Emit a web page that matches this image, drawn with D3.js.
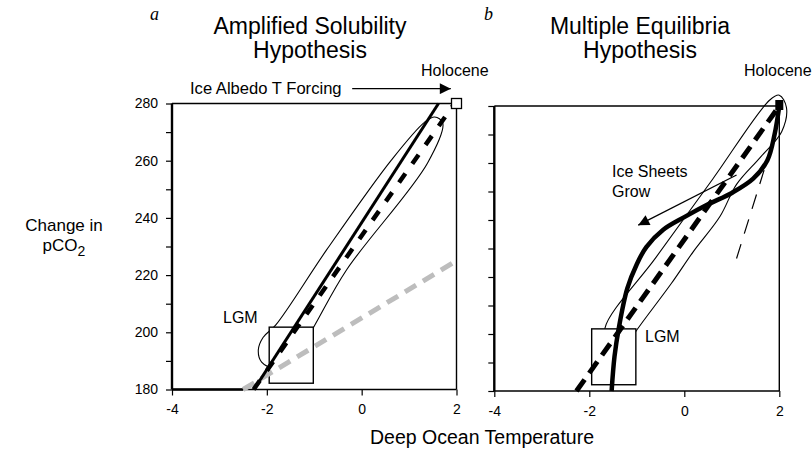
<!DOCTYPE html>
<html>
<head>
<meta charset="utf-8">
<script src="https://cdnjs.cloudflare.com/ajax/libs/d3/7.8.5/d3.min.js"></script>
<style>
  body { margin: 0; background: #fff; }
  text { font-family: "Liberation Sans", Arial, Helvetica, sans-serif; fill: #000; }
  .tick text { font-size: 14px; }
  .tick line { stroke: #000; stroke-width: 1.2; }
</style>
</head>
<body>
<div id="chart"></div>
<script>
// axis ticks
var xTicks = [-4, -2, 0, 2];
var yTicks = [180, 190, 200, 210, 220, 230, 240, 250, 260, 270, 280];

// LGM box (deg C / ppm)
var lgmX = [-1.95, -1.02];
var lgmY = [182.2, 201.8];
var holocene = [2, 280];

// panel a : amplified solubility
var aSolid = [[-2.27, 180], [1.62, 280]];
var aDashed = [[-2.28, 180], [1.96, 280]];
var aGray = [[-2.5, 180], [2, 225]];
var aLoop = [[1.54, 275.3], [1.71, 273.2], [1.39, 259.2], [-0.32, 221.8], [-0.99, 202.5],
  [-1.41, 190.4], [-1.83, 187.6], [-2.11, 189.6], [-2.18, 193.8], [-2.08, 198.2],
  [-1.81, 202.6], [-0.74, 228.8], [0.63, 260.3], [1.33, 273.5]];
var aArrow = [[-0.2, 285.2], [1.88, 285.2]];

// panel b : multiple equilibria
var bDashed = [[-2.27, 180], [2, 280]];
var bSolid = [[-1.53, 180], [-1.47, 192], [-1.38, 202], [-1.2, 216], [-1.0, 224.5], [-0.8, 230.5],
  [-0.45, 236.5], [0, 241], [0.5, 245.5], [1.0, 249.5], [1.45, 254.5], [1.75, 261], [1.9, 270], [2.0, 280]];
var bLoop = [[-1.67, 202.1], [-0.6, 226.8], [0.6, 254.4], [1.8, 282.1], [2.0, 283.8], [2.15, 279.5],
  [2.05, 271], [1.6, 262], [1.1, 252.5], [0.75, 241.2], [0.19, 228.9], [-0.27, 217.8],
  [-1.0, 201.4], [-1.3, 194], [-1.6, 196]];
var bThinDash = [[1.1, 226.5], [1.68, 257.5]];
var bArrow = [[1.1, 255.8], [-0.97, 238.2]];

var svg = d3.select("#chart")
  .append("svg")
  .attr("width", 812)
  .attr("height", 452);

svg.append("defs").append("marker")
  .attr("id", "head")
  .attr("viewBox", "0 0 10 10")
  .attr("refX", 10)
  .attr("refY", 5)
  .attr("markerUnits", "userSpaceOnUse")
  .attr("markerWidth", 22)
  .attr("markerHeight", 11)
  .attr("orient", "auto")
  .append("path")
  .attr("d", "M0,0 L10,5 L0,10 Z")
  .attr("fill", "#000");

function drawPanel(x, y, labels) {
  var g = svg.append("g");

  // y axis ticks
  var yAxis = d3.axisLeft(y)
    .tickValues(yTicks)
    .tickSize(6)
    .tickPadding(8)
    .tickFormat(function (d) {
      return labels && d % 20 == 0 ? d : "";
    });
  g.append("g")
    .attr("transform", "translate(" + x(-4) + ",0)")
    .call(yAxis)
    .call(function (s) { s.select(".domain").remove(); });

  // x axis ticks
  var xAxis = d3.axisBottom(x)
    .tickValues(xTicks)
    .tickSize(6)
    .tickPadding(9)
    .tickFormat(function (d) { return String(d); });
  g.append("g")
    .attr("transform", "translate(0," + y(180) + ")")
    .call(xAxis)
    .call(function (s) { s.select(".domain").remove(); });

  g.selectAll(".tick text").attr("font-family", null);

  // frame
  g.append("line")
    .attr("x1", x(-4)).attr("x2", x(2))
    .attr("y1", y(280)).attr("y2", y(280))
    .attr("stroke", "#000").attr("stroke-width", 1.6);
  g.append("line")
    .attr("x1", x(2)).attr("x2", x(2))
    .attr("y1", y(280)).attr("y2", y(180))
    .attr("stroke", "#000").attr("stroke-width", 1.4);
  g.append("line")
    .attr("x1", x(-4)).attr("x2", x(2))
    .attr("y1", y(180)).attr("y2", y(180))
    .attr("stroke", "#000").attr("stroke-width", 1.6);
  g.append("line")
    .attr("x1", x(-4)).attr("x2", x(-4))
    .attr("y1", y(280)).attr("y2", y(180))
    .attr("stroke", "#000").attr("stroke-width", 2.4);
  return g;
}

var line = function (x, y) {
  return d3.line()
    .x(function (d) { return x(d[0]); })
    .y(function (d) { return y(d[1]); });
};

function drawLoop(g, x, y, pts) {
  g.append("path")
    .datum(pts)
    .attr("d", line(x, y).curve(d3.curveCatmullRomClosed.alpha(0.5)))
    .attr("fill", "none")
    .attr("stroke", "#000")
    .attr("stroke-width", 1.1);
}

function drawBox(g, x, y) {
  g.append("rect")
    .attr("x", x(lgmX[0]))
    .attr("y", y(lgmY[1]))
    .attr("width", x(lgmX[1]) - x(lgmX[0]))
    .attr("height", y(lgmY[0]) - y(lgmY[1]))
    .attr("fill", "#fff")
    .attr("stroke", "#000")
    .attr("stroke-width", 1.4);
}

///////////////////////////// panel a /////////////////////////////
var xA = d3.scaleLinear().domain([-4, 2]).range([172, 456.5]);
var yA = d3.scaleLinear().domain([180, 280]).range([389.5, 103.5]);
var gA = drawPanel(xA, yA, true);

// thick piece of the bottom axis
gA.append("line")
  .attr("x1", xA(-4)).attr("x2", xA(aGray[0][0]))
  .attr("y1", yA(180)).attr("y2", yA(180))
  .attr("stroke", "#000").attr("stroke-width", 2.6);

drawLoop(gA, xA, yA, aLoop);
drawBox(gA, xA, yA);

gA.append("path")
  .datum(aGray)
  .attr("d", line(xA, yA))
  .attr("fill", "none")
  .attr("stroke", "#bdbdbd")
  .attr("stroke-width", 5)
  .attr("stroke-dasharray", "13,8");

gA.append("path")
  .datum(aSolid)
  .attr("d", line(xA, yA))
  .attr("fill", "none")
  .attr("stroke", "#000")
  .attr("stroke-width", 3);

gA.append("path")
  .datum(aDashed)
  .attr("d", line(xA, yA))
  .attr("fill", "none")
  .attr("stroke", "#000")
  .attr("stroke-width", 4.5)
  .attr("stroke-dasharray", "11,12");

gA.append("rect")
  .attr("x", xA(holocene[0]) - 5)
  .attr("y", yA(holocene[1]) - 5)
  .attr("width", 10)
  .attr("height", 10)
  .attr("fill", "#fff")
  .attr("stroke", "#000")
  .attr("stroke-width", 1.3);

gA.append("path")
  .datum(aArrow)
  .attr("d", line(xA, yA))
  .attr("stroke", "#000")
  .attr("stroke-width", 1.3)
  .attr("marker-end", "url(#head)");

///////////////////////////// panel b /////////////////////////////
var xB = d3.scaleLinear().domain([-4, 2]).range([494.3, 779.3]);
var yB = d3.scaleLinear().domain([180, 280]).range([391, 106]);
var gB = drawPanel(xB, yB, false);

drawLoop(gB, xB, yB, bLoop);
drawBox(gB, xB, yB);

gB.append("path")
  .datum(bThinDash)
  .attr("d", line(xB, yB))
  .attr("fill", "none")
  .attr("stroke", "#000")
  .attr("stroke-width", 1.2)
  .attr("stroke-dasharray", "15,11");

gB.append("path")
  .datum(bDashed)
  .attr("d", line(xB, yB))
  .attr("fill", "none")
  .attr("stroke", "#000")
  .attr("stroke-width", 5)
  .attr("stroke-dasharray", "14,8");

gB.append("path")
  .datum(bSolid)
  .attr("d", line(xB, yB).curve(d3.curveCatmullRom.alpha(0.5)))
  .attr("fill", "none")
  .attr("stroke", "#000")
  .attr("stroke-width", 4.5);

gB.append("rect")
  .attr("x", xB(holocene[0]) - 4)
  .attr("y", yB(holocene[1]) - 6)
  .attr("width", 8)
  .attr("height", 10)
  .attr("fill", "#000");

gB.append("path")
  .datum(bArrow)
  .attr("d", line(xB, yB))
  .attr("stroke", "#000")
  .attr("stroke-width", 1.3)
  .attr("marker-end", "url(#head)");

///////////////////////////// texts /////////////////////////////
svg.append("text").attr("x", 150).attr("y", 20)
  .style("font-family", "'Liberation Serif', 'Times New Roman', serif")
  .style("font-style", "italic").style("font-size", "18px").text("a");
svg.append("text").attr("x", 484).attr("y", 20)
  .style("font-family", "'Liberation Serif', 'Times New Roman', serif")
  .style("font-style", "italic").style("font-size", "18px").text("b");

var titles = [
  { x: 310, lines: ["Amplified Solubility", "Hypothesis"] },
  { x: 640, lines: ["Multiple Equilibria", "Hypothesis"] }
];
titles.forEach(function (t) {
  t.lines.forEach(function (s, i) {
    svg.append("text")
      .attr("x", t.x)
      .attr("y", 34 + i * 24)
      .attr("text-anchor", "middle")
      .style("font-size", "23px")
      .text(s);
  });
});

svg.append("text").attr("x", 421).attr("y", 76).style("font-size", "16px").text("Holocene");
svg.append("text").attr("x", 744).attr("y", 76).style("font-size", "16px").text("Holocene");
svg.append("text").attr("x", 190).attr("y", 94).style("font-size", "16.6px").text("Ice Albedo T Forcing");
svg.append("text").attr("x", 223).attr("y", 323).style("font-size", "16px").text("LGM");
svg.append("text").attr("x", 645).attr("y", 342).style("font-size", "16px").text("LGM");
svg.append("text").attr("x", 612).attr("y", 177).style("font-size", "16px").text("Ice Sheets");
svg.append("text").attr("x", 612).attr("y", 197).style("font-size", "16px").text("Grow");

svg.append("text").attr("x", 64).attr("y", 231)
  .attr("text-anchor", "middle").style("font-size", "17px").text("Change in");
var pco = svg.append("text").attr("x", 64).attr("y", 251)
  .attr("text-anchor", "middle").style("font-size", "17px");
pco.append("tspan").text("pCO");
pco.append("tspan").attr("dy", 5).style("font-size", "14px").text("2");

svg.append("text").attr("x", 482).attr("y", 444)
  .attr("text-anchor", "middle").style("font-size", "19.5px").text("Deep Ocean Temperature");
</script>
</body>
</html>
